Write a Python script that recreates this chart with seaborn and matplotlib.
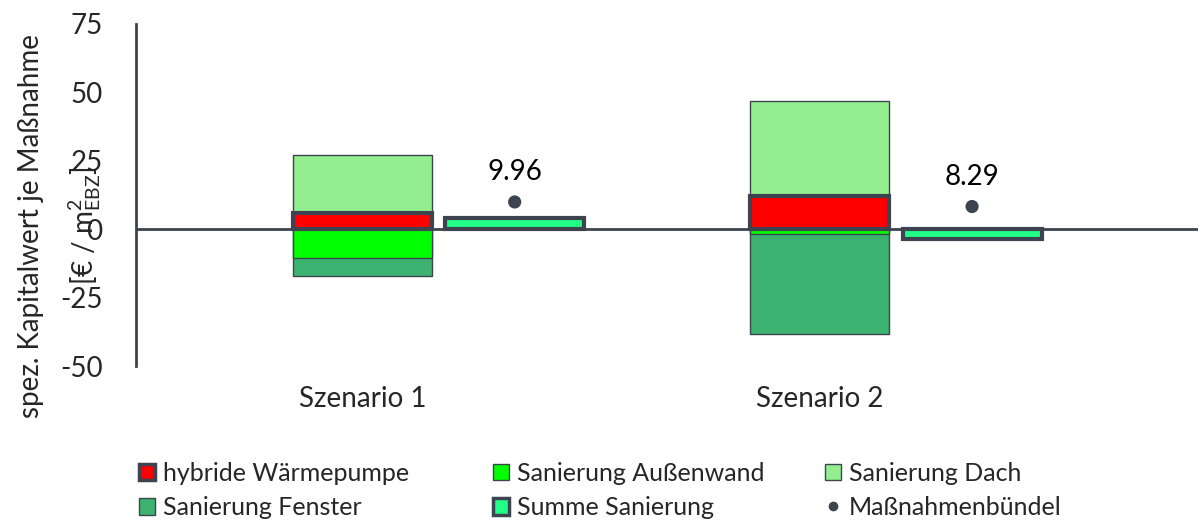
import numpy as np
import pandas as pd
import matplotlib.pyplot as plt
import seaborn as sns
from matplotlib.patches import Patch
from matplotlib.lines import Line2D

# Data
szenarien = ["Szenario 1", "Szenario 2"]
hybride_wp = [5.96, 12.0]
sanierung_aussenwand = [-10.5, -1.6]
sanierung_dach = [21.0, 34.7]
sanierung_fenster = [-6.5, -36.8]
summe_sanierung = [4.0, -3.71]
massnahmenbuendel = [9.96, 8.29]

sns.set_style("white")
plt.rcParams["font.family"] = ["Lato", "DejaVu Sans"]
plt.rcParams["mathtext.fontset"] = "custom"
plt.rcParams["mathtext.rm"] = "Lato"
plt.rcParams["mathtext.it"] = "Lato"

dark = "#3d4450"
c_red = "#ff0000"
c_wand = "#00ff00"
c_dach = "#93ee90"
c_fenster = "#3cb371"
c_summe = "#22ff88"

fig = plt.figure(figsize=(11.98, 5.24), dpi=100)
ax = fig.add_axes([0.1135, 0.3015, 0.8865, 0.6527])

pos = np.array([0.0, 1.0])
off = 0.333
w = 0.304

df = pd.DataFrame({
    "pos": pos,
    "hwp": hybride_wp,
    "wand": sanierung_aussenwand,
    "dach": sanierung_dach,
    "fenster": sanierung_fenster,
    "summe": summe_sanierung,
    "buendel": massnahmenbuendel,
})
df["pos_sum"] = df["pos"] + off
df["top"] = df["hwp"] + df["dach"]
df["neg"] = df["wand"] + df["fenster"]

# stacked bar drawn as overlapping cumulative bars
sns.barplot(data=df, x="pos", y="top", native_scale=True, width=w,
            color=c_dach, saturation=1, edgecolor=dark, linewidth=1, ax=ax)
sns.barplot(data=df, x="pos", y="neg", native_scale=True, width=w,
            color=c_fenster, saturation=1, edgecolor=dark, linewidth=1, ax=ax)
sns.barplot(data=df, x="pos", y="wand", native_scale=True, width=w,
            color=c_wand, saturation=1, edgecolor=dark, linewidth=1, ax=ax)
sns.barplot(data=df, x="pos", y="hwp", native_scale=True, width=w,
            color=c_red, saturation=1, edgecolor=dark, linewidth=3, ax=ax)
sns.barplot(data=df, x="pos_sum", y="summe", native_scale=True, width=w,
            color=c_summe, saturation=1, edgecolor=dark, linewidth=3, ax=ax)

ax.axhline(0, color=dark, lw=2, zorder=1)

sns.scatterplot(data=df, x="pos_sum", y="buendel", color=dark, s=90,
                edgecolor="none", ax=ax, zorder=5)
for x, v in zip(df["pos_sum"], df["buendel"]):
    ax.annotate(f"{v:.2f}", (x, v), xytext=(0, 12), textcoords="offset points",
                ha="center", va="bottom", fontsize=20, color="black")

ax.set_xlim(-0.495, 1.827)
ax.set_ylim(-50, 75)
ax.set_yticks([-50, -25, 0, 25, 50, 75])
ax.set_yticklabels(["-50", "-25", "0", "25", "50", "75"])
ax.set_xticks([])
ax.set_xlabel("")
ax.tick_params(axis="y", direction="in", length=8, width=2, color=dark,
               labelsize=20, pad=24)

for s in ["top", "right", "bottom"]:
    ax.spines[s].set_visible(False)
ax.spines["left"].set_color(dark)
ax.spines["left"].set_linewidth(2)

ax.set_ylabel("spez. Kapitalwert je Maßnahme\n[€ / m$^{2}_{\\mathrm{EBZ}}$]",
              fontsize=20, linespacing=1.8)
ax.yaxis.set_label_coords(-0.031, 0.41)

# category labels below the plot area
for x, lab in zip(pos, szenarien):
    ax.text(x, -62, lab, ha="center", va="center", fontsize=20)

# Legend: three fixed columns
h_hwp = Patch(facecolor=c_red, edgecolor=dark, linewidth=2.5, label="hybride Wärmepumpe")
h_fen = Patch(facecolor=c_fenster, edgecolor=dark, linewidth=1, label="Sanierung Fenster")
h_wand = Patch(facecolor=c_wand, edgecolor=dark, linewidth=1, label="Sanierung Außenwand")
h_sum = Patch(facecolor=c_summe, edgecolor=dark, linewidth=2.5, label="Summe Sanierung")
h_dach = Patch(facecolor=c_dach, edgecolor=dark, linewidth=1, label="Sanierung Dach")
h_dot = Line2D([], [], marker="o", color="none", markerfacecolor=dark,
               markeredgecolor="none", markersize=7, label="Maßnahmenbündel")

for hs, xpx in [([h_hwp, h_fen], 134), ([h_wand, h_sum], 488), ([h_dach, h_dot], 820)]:
    leg = fig.legend(handles=hs, loc="lower left",
                     bbox_to_anchor=(xpx / 1198, 0.0), frameon=False, fontsize=18,
                     handlelength=0.65, handleheight=0.65, handletextpad=0.3,
                     labelspacing=0.45, borderpad=0.2, borderaxespad=0.0)

fig.savefig("out.png", dpi=100)
